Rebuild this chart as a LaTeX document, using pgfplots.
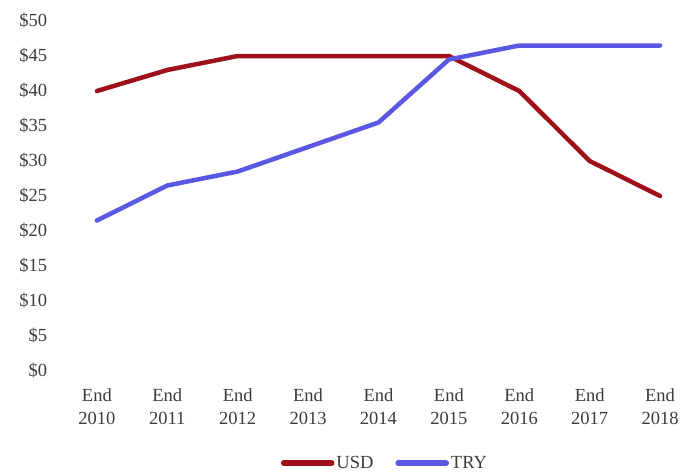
\documentclass[border=0pt]{standalone}
\usepackage{fontspec}
\setmainfont{Liberation Serif}
\usepackage{pgfplots}
\pgfplotsset{compat=1.18}

\definecolor{usdred}{RGB}{158,16,26}
\definecolor{tryblue}{RGB}{90,88,226}
\definecolor{labelgray}{RGB}{60,60,60}

\begin{document}
\begin{tikzpicture}
\begin{axis}[
  at={(0pt,0pt)}, anchor=south west,
  scale only axis,
  width=621.6pt, height=350pt,
  xmin=-0.5, xmax=8.33,
  ymin=0, ymax=50,
  axis line style={draw=none},
  tick style={draw=none},
  ytick={0,5,...,50},
  yticklabel={\$\pgfmathprintnumber{\tick}},
  /pgf/number format/assume math mode=true,
  yticklabel style={font=\fontsize{18.5}{20}\selectfont, text=labelgray, anchor=east, xshift=-11pt},
  xtick=data,
  xticklabels={{End\\2010},{End\\2011},{End\\2012},{End\\2013},{End\\2014},{End\\2015},{End\\2016},{End\\2017},{End\\2018}},
  xticklabel style={font=\fontsize{18.5}{23.5}\selectfont, text=labelgray, align=center, anchor=north, yshift=-14pt},
  legend columns=2,
  legend style={
    at={(0.52,-0.263)}, anchor=center, draw=none, fill=none,
    font=\fontsize{18.5}{20}\selectfont, text=labelgray,
    /tikz/every even column/.append style={column sep=20pt},
    nodes={inner sep=2pt},
  },
  legend image code/.code={\draw[#1, line width=5.5pt, line cap=round] (0pt,0pt) -- (48pt,0pt);},
]
% year-end values in dollars
\addplot[usdred, line width=4.5pt, line join=round, line cap=round] coordinates {
  (0,40) (1,43) (2,45) (3,45) (4,45) (5,45) (6,40) (7,30) (8,25)
};
\addlegendentry{USD}
\addplot[tryblue, line width=4.5pt, line join=round, line cap=round] coordinates {
  (0,21.5) (1,26.5) (2,28.5) (3,32) (4,35.5) (5,44.5) (6,46.5) (7,46.5) (8,46.5)
};
\addlegendentry{TRY}
\end{axis}
\pgfresetboundingbox
\path[use as bounding box] (-61.7pt,-104pt) rectangle (621.3pt,371pt);
\end{tikzpicture}
\end{document}
